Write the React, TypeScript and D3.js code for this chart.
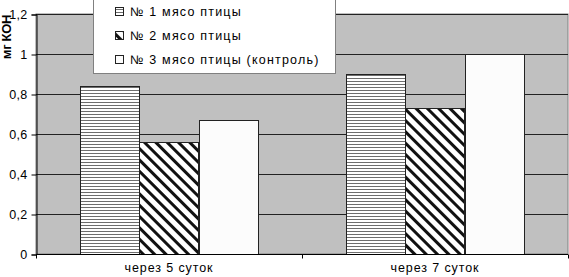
import React, { useEffect, useRef } from "react";
import * as d3 from "d3";

const categories = ["через 5 суток", "через 7 суток"];
const seriesNames = ["№ 1 мясо птицы", "№ 2 мясо птицы", "№ 3 мясо птицы (контроль)"];
const series1 = [0.84, 0.9];
const series2 = [0.56, 0.73];
const series3 = [0.67, 1.0];
const yTicks = [0, 0.2, 0.4, 0.6, 0.8, 1, 1.2];
const yTickLabels = ["0", "0,2", "0,4", "0,6", "0,8", "1", "1,2"];
const yTitle = "мг КОН";

const W = 569;
const H = 277;
const M = { left: 36, right: 1, top: 14, bottom: 23 };
const FONT = "'Liberation Sans', Arial, sans-serif";

export default function App() {
  const ref = useRef<SVGSVGElement>(null);
  useEffect(() => {
    const svg = d3.select(ref.current);
    svg.selectAll("*").remove();
    const defs = svg.append("defs");
    // horizontal lines pattern
    const p1 = defs.append("pattern").attr("id", "hlines").attr("patternUnits", "userSpaceOnUse").attr("width", 4).attr("height", 3);
    p1.append("rect").attr("width", 4).attr("height", 3).attr("fill", "#ffffff");
    p1.append("rect").attr("y", 0).attr("width", 4).attr("height", 1).attr("fill", "#6e6e6e");
    // diagonal pattern "\"
    const p2 = defs.append("pattern").attr("id", "diag").attr("patternUnits", "userSpaceOnUse").attr("width", 8).attr("height", 8)
      .attr("patternTransform", "rotate(-45)");
    p2.append("rect").attr("width", 8).attr("height", 8).attr("fill", "#ffffff");
    p2.append("rect").attr("x", 0).attr("width", 3).attr("height", 8).attr("fill", "#111111");

    const fills = ["url(#hlines)", "url(#diag)", "#fcfcfc"];
    const data = [series1, series2, series3];

    const x0 = d3.scaleBand().domain(categories).range([M.left, W - M.right]).paddingInner(0).paddingOuter(0);
    const inner = 0.67;
    const x1 = d3.scaleBand().domain(["0", "1", "2"]).range([0, x0.bandwidth() * inner]);
    const y = d3.scaleLinear().domain([0, 1.2]).range([H - M.bottom, M.top]);

    const g = svg.append("g");
    g.append("rect").attr("x", M.left).attr("y", M.top).attr("width", W - M.right - M.left).attr("height", y(0) - M.top)
      .attr("fill", "#c0c0c0").attr("stroke", "#808080").attr("stroke-width", 1);

    // gridlines
    g.selectAll("line.grid").data(yTicks.slice(1)).join("line")
      .attr("x1", M.left).attr("x2", W - M.right)
      .attr("y1", (d) => Math.round(y(d)) + 0.5).attr("y2", (d) => Math.round(y(d)) + 0.5)
      .attr("stroke", "#222").attr("stroke-width", 1);

    // bars
    categories.forEach((c, ci) => {
      const gx = (x0(c) as number) + x0.bandwidth() * (1 - inner) / 2;
      data.forEach((s, si) => {
        const bx = gx + (x1(String(si)) as number);
        g.append("rect")
          .attr("x", Math.round(bx) + 0.5).attr("y", Math.round(y(s[ci])) + 0.5)
          .attr("width", Math.round(x1.bandwidth())).attr("height", Math.round(y(0)) - Math.round(y(s[ci])))
          .attr("fill", fills[si]).attr("stroke", "#222").attr("stroke-width", 1);
      });
    });

    // axes
    const yAxis = d3.axisLeft(y).tickValues(yTicks).tickFormat((d, i) => yTickLabels[i]).tickSize(5).tickPadding(4);
    const ya = svg.append("g").attr("transform", `translate(${M.left + 0.5},0.5)`).call(yAxis as any);
    ya.select(".domain").attr("stroke", "#000");
    ya.selectAll(".tick line").attr("stroke", "#000");
    ya.selectAll(".tick text").attr("font-family", FONT).attr("font-size", 12.5).attr("fill", "#000").attr("letter-spacing", 0.3);

    const xa = svg.append("g").attr("transform", `translate(0,${Math.round(y(0)) + 0.5})`);
    xa.append("line").attr("x1", M.left).attr("x2", W - M.right).attr("stroke", "#000");
    [M.left, (x0(categories[1]) as number), W - M.right].forEach((tx) => {
      xa.append("line").attr("x1", Math.round(tx) + 0.5).attr("x2", Math.round(tx) + 0.5).attr("y1", 0).attr("y2", 4).attr("stroke", "#000");
    });
    categories.forEach((c) => {
      xa.append("text").attr("x", (x0(c) as number) + x0.bandwidth() / 2).attr("y", 17)
        .attr("text-anchor", "middle").attr("font-family", FONT).attr("font-size", 12.5).attr("letter-spacing", 0.9).text(c);
    });

    // y title
    svg.append("text").attr("transform", `translate(11,37) rotate(-90)`).attr("text-anchor", "middle")
      .attr("font-family", FONT).attr("font-size", 13).attr("font-weight", "bold").attr("letter-spacing", -0.3).text(yTitle);

    // legend
    const lg = svg.append("g");
    lg.append("rect").attr("x", 93.5).attr("y", -5).attr("width", 242).attr("height", 78.5)
      .attr("fill", "#ffffff").attr("stroke", "#808080").attr("stroke-width", 1);
    const rowsY = [12, 36, 60];
    seriesNames.forEach((n, i) => {
      lg.append("rect").attr("x", 115.5).attr("y", rowsY[i] - 4.5).attr("width", 8).attr("height", 8)
        .attr("fill", fills[i]).attr("stroke", "#222").attr("stroke-width", 1);
      lg.append("text").attr("x", 130).attr("y", rowsY[i] + 4).attr("font-family", FONT).attr("font-size", 12.5)
        .attr("letter-spacing", 1.2).text(n);
    });
  }, []);
  return (
    <svg ref={ref} width={W} height={H} style={{ position: "absolute", left: 0, top: 0, background: "#fff" }} />
  );
}
